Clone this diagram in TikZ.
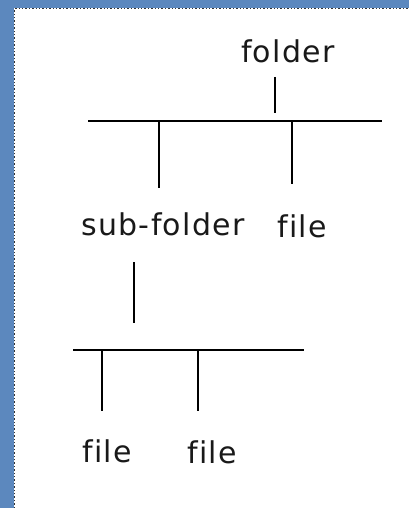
\documentclass[tikz,border=0pt]{standalone}
\usepackage{fontspec}
\setmainfont{DejaVu Sans}[Ligatures={NoCommon}, LetterSpace=4.5]
\definecolor{frameblue}{RGB}{92,136,190}
\begin{document}
\begin{tikzpicture}[x=1pt,y=-1pt,
  lbl/.style={font=\fontsize{30}{36}\selectfont, inner sep=0pt, anchor=base, text=black!90},
  link/.style={line width=1.7pt, black}]
\useasboundingbox (0,0) rectangle (409,508);
\fill[frameblue] (0,0) rectangle (409,508);
\fill[white] (14,8) rectangle (409,508);
\draw[dotted, line width=1.4pt, black!80] (14.7,508) -- (14.7,8.7) -- (409,8.7);
% labels
\node[lbl] (folder) at (288,63) {folder};
\node[lbl] (sub) at (163,235) {sub-folder};
\node[lbl] (fileA) at (302,237) {file};
\node[lbl] (fileB) at (107,462) {file};
\node[lbl] (fileC) at (212,463) {file};
% coordinates
\coordinate (b1l) at (88,121);
\coordinate (b1r) at (382,121);
\coordinate (f1) at (275,77);
\coordinate (f2) at (275,113);
\coordinate (d1a) at (159,121);
\coordinate (d1b) at (159,188);
\coordinate (d2a) at (292,121);
\coordinate (d2b) at (292,184);
\coordinate (s1) at (134,262);
\coordinate (s2) at (134,323);
\coordinate (b2l) at (73,350);
\coordinate (b2r) at (304,350);
\coordinate (e1a) at (102,350);
\coordinate (e1b) at (102,411);
\coordinate (e2a) at (198,350);
\coordinate (e2b) at (198,411);
% connectors
\draw[link] (f1) -- (f2);
\draw[link] (b1l) -- (b1r);
\draw[link] (d1a) -- (d1b);
\draw[link] (d2a) -- (d2b);
\draw[link] (s1) -- (s2);
\draw[link] (b2l) -- (b2r);
\draw[link] (e1a) -- (e1b);
\draw[link] (e2a) -- (e2b);
\end{tikzpicture}
\end{document}
